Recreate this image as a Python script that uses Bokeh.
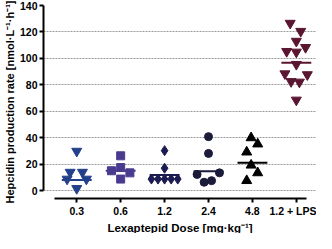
from bokeh.plotting import figure
from bokeh.models import Range1d, FixedTicker, Grid, Title
from bokeh.embed import file_html
from bokeh.resources import INLINE

categories = ["0.3", "0.6", "1.2", "2.4", "4.8", "1.2 + LPS"]

vals_03 = [29.8, 13.9, 13.9, 8.7, 8.7, 1.6]
jit_03 = [0.0, -0.15, 0.13, -0.22, 0.22, 0.0]
vals_06 = [26.3, 17.4, 15.0, 13.4, 8.7]
jit_06 = [0.0, 0.0, -0.21, 0.21, 0.0]
vals_12 = [30.2, 16.9, 8.7, 8.7, 8.7, 8.7, 8.7]
jit_12 = [0.0, 0.0, -0.3, -0.15, 0.0, 0.15, 0.3]
vals_24 = [40.8, 28.1, 12.2, 13.4, 6.3, 7.5]
jit_24 = [0.0, 0.0, -0.26, 0.25, -0.1, 0.07]
vals_48 = [39.9, 35.2, 29.1, 19.2, 13.4, 7.5]
jit_48 = [-0.03, 0.12, -0.13, -0.03, 0.12, -0.13]
vals_lps = [126.6, 120.5, 113.0, 108.3, 105.3, 104.8, 95.5, 88.4, 87.7, 82.5, 82.1, 68.5]
jit_lps = [-0.14, 0.1, 0.0, 0.21, -0.22, 0.0, 0.0, -0.26, 0.25, -0.12, 0.07, 0.0]

medians = [8.0, 15.0, 11.7, 14.6, 21.1, 96.6]
y_ticks = [0, 20, 40, 60, 80, 100, 120, 140]

y_title = "Hepcidin production rate [nmol·L⁻¹·h⁻¹]"
x_title = "Lexaptepid Dose [mg·kg⁻¹]"

FONT = "Liberation Sans"

p = figure(width=316, height=233, output_backend="svg", toolbar_location=None,
           x_range=Range1d(-0.757, 5.459), y_range=Range1d(-6.0, 140),
           min_border_top=5, min_border_left=36, min_border_right=0, min_border_bottom=0)
p.outline_line_color = None
p.background_fill_color = "white"
p.border_fill_color = "white"

# grids
p.xgrid.grid_line_color = None
p.ygrid.ticker = FixedTicker(ticks=y_ticks[:-1])
p.ygrid.grid_line_color = "#9a9a9a"
p.ygrid.grid_line_dash = "2 1"
p.ygrid.grid_line_width = 1
top_grid = Grid(dimension=1, ticker=FixedTicker(ticks=[y_ticks[-1]]),
                grid_line_color="black", grid_line_dash="2 1", grid_line_width=1)
p.add_layout(top_grid)

# axes
p.yaxis.ticker = FixedTicker(ticks=y_ticks)
p.yaxis.bounds = (0, 140)
p.yaxis.axis_label = y_title
p.xaxis.ticker = FixedTicker(ticks=list(range(len(categories))))
p.xaxis.major_label_overrides = {i: c for i, c in enumerate(categories)}
p.xaxis.bounds = (-0.5, 5.22)
for ax in (p.xaxis, p.yaxis):
    ax.axis_line_color = "black"
    ax.axis_line_width = 2
    ax.major_tick_line_color = "black"
    ax.major_tick_line_width = 2
    ax.major_tick_out = 4
    ax.major_tick_in = 0
    ax.minor_tick_line_color = None
    ax.major_label_text_font = FONT
    ax.major_label_text_font_style = "bold"
    ax.major_label_text_font_size = "10.5px"
    ax.major_label_text_color = "black"
    ax.axis_label_text_font = FONT
    ax.axis_label_text_font_style = "bold"
    ax.axis_label_text_color = "black"
    ax.major_label_standoff = 2
    ax.axis_label_standoff = 1
p.yaxis.axis_label_text_font_size = "11px"

# x-axis title as a title panel below the axis
p.add_layout(Title(text=x_title, align="center", text_font=FONT, text_font_style="bold",
                   text_font_size="11.5px", text_color="black", standoff=0), "below")

groups = [
    (vals_03, jit_03, "inverted_triangle", "#23408a", 10),
    (vals_06, jit_06, "square", "#4a3b8e", 8),
    (vals_12, jit_12, "diamond", "#1b1b52", 10),
    (vals_24, jit_24, "circle", "#1b1b3a", 8),
    (vals_48, jit_48, "triangle", "#000000", 10),
    (vals_lps, jit_lps, "inverted_triangle", "#5a1530", 10),
]
half = 0.34
for i, (vals, jit, marker, color, size) in enumerate(groups):
    xs = [i + j for j in jit]
    p.scatter(xs, vals, marker=marker, size=size, fill_color=color, line_color=color, line_width=1)
    p.segment(x0=[i - half], y0=[medians[i]], x1=[i + half], y1=[medians[i]],
              line_color=color, line_width=2)

open("out.html", "w").write(file_html(p, INLINE))
